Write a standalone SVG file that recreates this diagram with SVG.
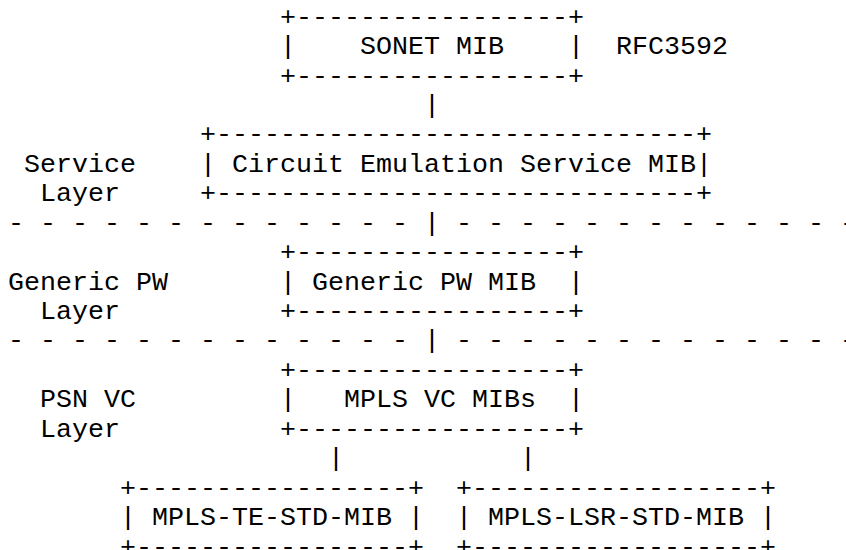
<svg xmlns="http://www.w3.org/2000/svg" width="846" height="550" viewBox="0 0 846 550">
<style>
.t{font-family:"Liberation Mono","Courier New",monospace;font-size:26.67px;fill:#000;white-space:pre}
</style>
<rect width="846" height="550" fill="#fff"/>
<g id="layer-labels">
<text class="t" x="24" y="171.8">Service</text>
<text class="t" x="40" y="201.2">Layer</text>
<text class="t" x="8" y="289.6">Generic PW</text>
<text class="t" x="40" y="319.0">Layer</text>
<text class="t" x="40" y="407.3">PSN VC</text>
<text class="t" x="40" y="436.8">Layer</text>
</g>
<g id="dividers">
<text class="t" x="8" y="230.7">- - - - - - - - - - - - -</text>
<text class="t" x="456" y="230.7">- - - - - - - - - - - - -</text>
<text class="t" x="8" y="348.4">- - - - - - - - - - - - -</text>
<text class="t" x="456" y="348.4">- - - - - - - - - - - - -</text>
</g>
<g id="sonet-mib">
<text class="t" x="280" y="24.6">+-----------------+</text>
<text class="t" x="280" y="54.0">|    SONET MIB    |</text>
<text class="t" x="280" y="83.5">+-----------------+</text>
</g>
<g id="rfc3592">
<text class="t" x="616" y="54.0">RFC3592</text>
</g>
<g id="ces-mib">
<text class="t" x="200" y="142.4">+------------------------------+</text>
<text class="t" x="200" y="171.8">| Circuit Emulation Service MIB|</text>
<text class="t" x="200" y="201.2">+------------------------------+</text>
</g>
<g id="generic-pw-mib">
<text class="t" x="280" y="260.1">+-----------------+</text>
<text class="t" x="280" y="289.6">| Generic PW MIB  |</text>
<text class="t" x="280" y="319.0">+-----------------+</text>
</g>
<g id="mpls-vc-mibs">
<text class="t" x="280" y="377.9">+-----------------+</text>
<text class="t" x="280" y="407.3">|   MPLS VC MIBs  |</text>
<text class="t" x="280" y="436.8">+-----------------+</text>
</g>
<g id="mpls-te-std-mib">
<text class="t" x="120" y="495.6">+-----------------+</text>
<text class="t" x="120" y="525.1">| MPLS-TE-STD-MIB |</text>
<text class="t" x="120" y="554.5">+-----------------+</text>
</g>
<g id="mpls-lsr-std-mib">
<text class="t" x="456" y="495.6">+------------------+</text>
<text class="t" x="456" y="525.1">| MPLS-LSR-STD-MIB |</text>
<text class="t" x="456" y="554.5">+------------------+</text>
</g>
<g id="connectors">
<text class="t" x="424" y="112.9">|</text>
<text class="t" x="424" y="230.7">|</text>
<text class="t" x="424" y="348.4">|</text>
<text class="t" x="328" y="466.2">|</text>
<text class="t" x="520" y="466.2">|</text>
</g>
</svg>
